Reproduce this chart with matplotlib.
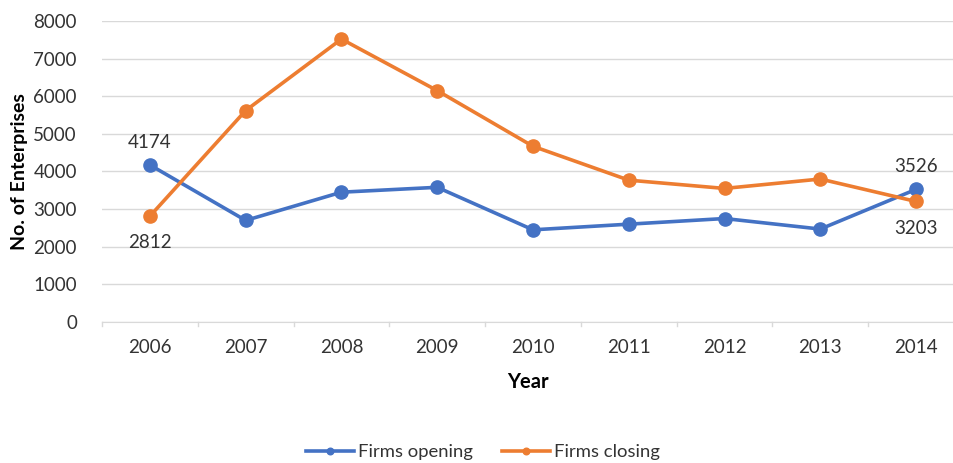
import matplotlib
matplotlib.use("Agg")
import matplotlib.pyplot as plt

plt.rcParams['font.family'] = ['Lato', 'DejaVu Sans']

years = ["2006", "2007", "2008", "2009", "2010", "2011", "2012", "2013", "2014"]
firms_opening = [4174, 2700, 3450, 3580, 2450, 2600, 2750, 2470, 3526]
firms_closing = [2812, 5620, 7520, 6150, 4670, 3770, 3550, 3800, 3203]
y_ticks = [0, 1000, 2000, 3000, 4000, 5000, 6000, 7000, 8000]

W, H = 954, 463
fig = plt.figure(figsize=(W / 100, H / 100), dpi=100)
left, right, top, bottom = 102, 954, 21, 322
ax = fig.add_axes([left / W, 1 - bottom / H, (right - left) / W, (bottom - top) / H])

blue = '#4472C4'
orange = '#ED7D31'
txt = '#333333'
x = list(range(len(years)))
ax.plot(x, firms_opening, color=blue, lw=2.6, marker='o', ms=9.5, label='Firms opening', zorder=3)
ax.plot(x, firms_closing, color=orange, lw=2.6, marker='o', ms=9.5, label='Firms closing', zorder=3)

ax.set_ylim(0, 8000)
ax.set_xlim(-0.5, 8.5 - 10 / 96)
ax.set_yticks(y_ticks)
ax.set_xticks(x)
ax.set_xticklabels(years)
ax.grid(axis='y', color='#D9D9D9', lw=1)
ax.set_axisbelow(True)
for s in ['top', 'right', 'left']:
    ax.spines[s].set_visible(False)
ax.spines['bottom'].set_color('#D9D9D9')
ax.tick_params(axis='y', length=0, labelsize=13.5, colors=txt, pad=18)
ax.tick_params(axis='x', length=0, labelsize=13.5, colors=txt, pad=12)
# category boundary ticks
for b in [i - 0.5 for i in range(len(years) + 1)]:
    ax.plot([b, b], [0, -110], color='#D9D9D9', lw=1, clip_on=False)

ax.set_xlabel('Year', fontsize=14.5, fontweight='bold', color='#000000', labelpad=12)
ax.set_ylabel('No. of Enterprises', fontsize=14, fontweight='bold', color='#000000', labelpad=4)

lab_kw = dict(fontsize=13.5, color=txt, ha='center', textcoords='offset points')
ax.annotate(str(firms_opening[0]), (0, firms_opening[0]), xytext=(0, 10), va='bottom', **lab_kw)
ax.annotate(str(firms_closing[0]), (0, firms_closing[0]), xytext=(0, -13), va='top', **lab_kw)
ax.annotate(str(firms_opening[-1]), (8, firms_opening[-1]), xytext=(0, 10), va='bottom', **lab_kw)
ax.annotate(str(firms_closing[-1]), (8, firms_closing[-1]), xytext=(0, -13), va='top', **lab_kw)

fig.legend(loc='center', bbox_to_anchor=(483 / W, 1 - 452 / H), ncol=2, frameon=False,
           fontsize=13.3, handlelength=2.6, columnspacing=1.6, handletextpad=0.2,
           labelcolor=txt, markerscale=0.5)

fig.savefig('out.png', dpi=100)
